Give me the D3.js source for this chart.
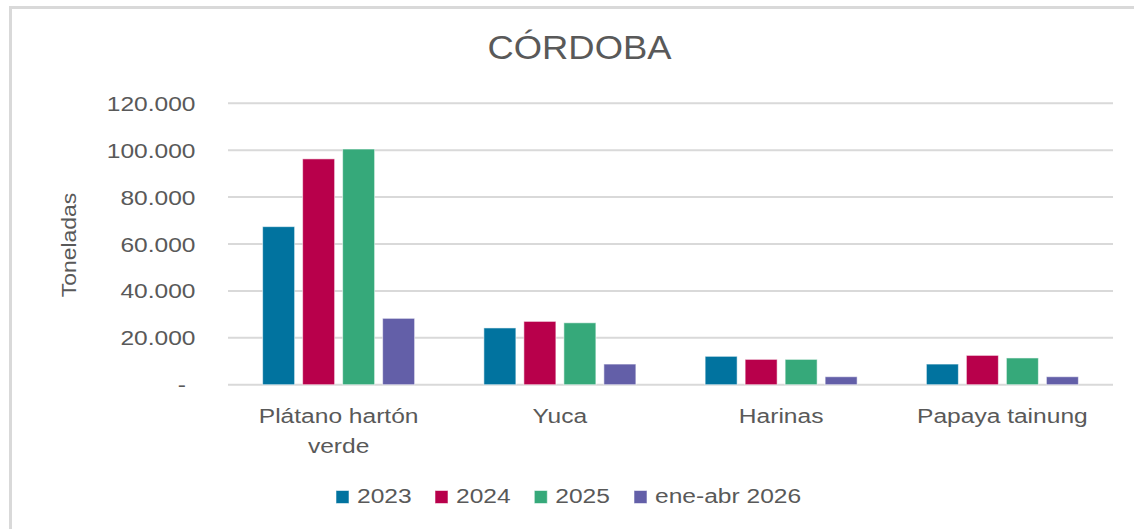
<!DOCTYPE html>
<html><head><meta charset="utf-8">
<script src="https://cdn.jsdelivr.net/npm/d3@7"></script>
<style>body{margin:0;background:#fff}svg{display:block}text{font-family:"Liberation Sans",Arial,sans-serif;fill:#595959}</style>
</head><body>
<script>
const categories = ["Plátano hartón verde", "Yuca", "Harinas", "Papaya tainung"];
const categoryLines = [["Plátano hartón", "verde"], ["Yuca"], ["Harinas"], ["Papaya tainung"]];
const seriesNames = ["2023", "2024", "2025", "ene-abr 2026"];
const v2023 = [67400, 24200, 12100, 8800];
const v2024 = [96300, 27000, 10800, 12500];
const v2025 = [100500, 26400, 10800, 11400];
const v2026 = [28300, 8800, 3400, 3400];
const seriesValues = [v2023, v2024, v2025, v2026];
const colors = ["#01739F", "#B8004B", "#36A97A", "#635FA8"];
const yTicks = [0, 20000, 40000, 60000, 80000, 100000, 120000];
const title = "CÓRDOBA";
const yTitle = "Toneladas";

const W = 1134, H = 529;
const SX = 1.17;
const svg = d3.select("body").append("svg").attr("width", W).attr("height", H);

// chart frame
svg.append("rect").attr("x", 10.5).attr("y", 7.5).attr("width", W + 20).attr("height", H + 20)
  .attr("fill", "#fff").attr("stroke", "#d9d9d9").attr("stroke-width", 3);

function stext(g, x, y, str, size, anchor, sx, rot) {
  const gg = g.append("g").attr("transform", `translate(${x},${y}) rotate(${rot||0}) scale(${sx},1)`);
  return gg.append("text").attr("font-size", size).attr("text-anchor", anchor || "start").text(str);
}

const x0 = d3.scaleBand().domain(categories).range([228, 1113]).padding(0);
const groupW = 152;
const x1 = d3.scaleBand().domain(seriesNames)
  .range([(x0.bandwidth() - groupW) / 2, (x0.bandwidth() + groupW) / 2]).paddingInner(0.2).paddingOuter(0);
const y = d3.scaleLinear().domain([0, 120000]).range([384.7, 103.3]);

// gridlines
svg.append("g").selectAll("line").data(yTicks).join("line")
  .attr("x1", 228).attr("x2", 1113)
  .attr("y1", d => y(d)).attr("y2", d => y(d))
  .attr("stroke", "#d9d9d9").attr("stroke-width", 2);

// y tick labels
const fmt = d => d === 0 ? "-" : d3.format(",")(d).replace(/,/g, ".");
yTicks.forEach(t => {
  stext(svg, t === 0 ? 186 : 195.5, y(t) + 7.5, fmt(t), 21, "end", SX);
});

// bars
const rows = categories.map((c, i) => ({ c, vals: seriesNames.map((s, j) => ({ s, v: seriesValues[j][i], j })) }));
svg.append("g").selectAll("g").data(rows).join("g")
  .attr("transform", d => `translate(${x0(d.c)},0)`)
  .selectAll("rect").data(d => d.vals).join("rect")
  .attr("x", d => x1(d.s)).attr("width", x1.bandwidth())
  .attr("y", d => y(d.v)).attr("height", d => y(0) - y(d.v))
  .attr("fill", d => colors[d.j]).attr("stroke", "rgba(255,255,255,0.55)").attr("stroke-width", 1);

// category labels
categories.forEach((c, i) => {
  categoryLines[i].forEach((ln, k) => {
    stext(svg, x0(c) + x0.bandwidth() / 2, 423.3 + k * 30, ln, 21, "middle", SX);
  });
});

// title
stext(svg, 579.5, 59.3, title, 34, "middle", 1.07);

// y axis title
stext(svg, 76, 245, yTitle, 21, "middle", 1.09, -90);

// legend
const legX = [336, 435, 534.3, 634];
seriesNames.forEach((s, j) => {
  svg.append("rect").attr("x", legX[j]).attr("y", 490.5).attr("width", 13).attr("height", 13)
    .attr("fill", colors[j]).attr("stroke", "rgba(255,255,255,0.55)");
  stext(svg, legX[j] + 21, 503.3, s, 21, "start", SX);
});
</script>
</body></html>
